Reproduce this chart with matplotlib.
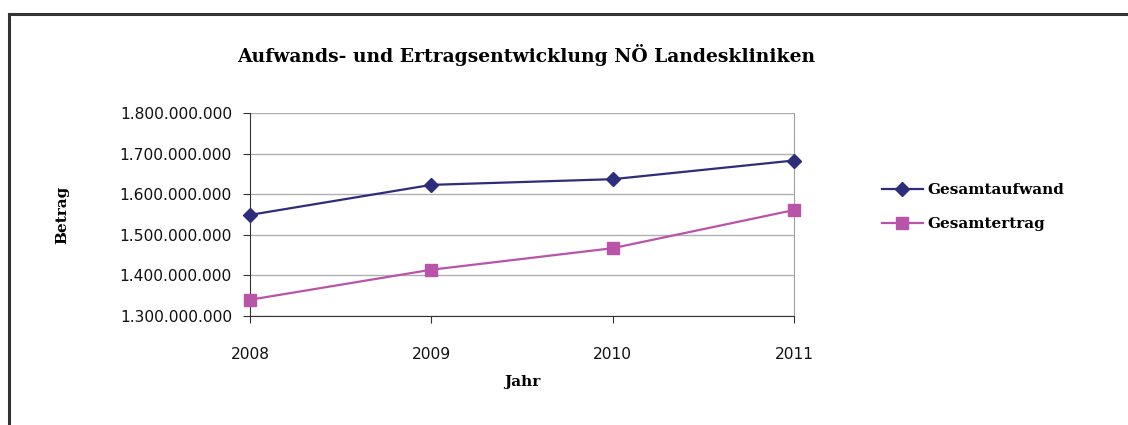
import matplotlib.pyplot as plt
from matplotlib.ticker import FuncFormatter
from matplotlib.lines import Line2D

years = ["2008", "2009", "2010", "2011"]
aufwand = [1549000000, 1623000000, 1637000000, 1683000000]
ertrag = [1340000000, 1414000000, 1467000000, 1561000000]

navy = "#2d2d7c"
pink = "#b954a8"

fig = plt.figure(figsize=(11.28, 4.25), dpi=100)
ax = fig.add_axes([250 / 1128, 1 - 316 / 425, 544 / 1128, 203 / 425])

x = range(len(years))
ax.plot(x, aufwand, color=navy, lw=1.6, marker="D", ms=7, label="Gesamtaufwand", clip_on=False, zorder=3)
ax.plot(x, ertrag, color=pink, lw=1.6, marker="s", ms=8, label="Gesamtertrag", clip_on=False, zorder=3)

ax.set_xlim(0, 3)
ax.set_ylim(1300000000, 1800000000)
ax.set_yticks(range(1300000000, 1800000001, 100000000))
ax.yaxis.set_major_formatter(FuncFormatter(lambda v, p: f"{int(v):,}".replace(",", ".")))
ax.set_xticks(list(x))
ax.set_xticklabels(years)
ax.grid(axis="y", color="#b0b0b0", lw=1)
ax.set_axisbelow(True)

ax.spines["top"].set_visible(False)
ax.spines["right"].set_color("#a0a0a0")
ax.spines["left"].set_color("#333333")
ax.spines["bottom"].set_color("#333333")
ax.tick_params(axis="both", direction="out", length=5, color="#333333",
               labelsize=11.2, labelcolor="#111111")
ax.tick_params(axis="y", pad=8)
ax.tick_params(axis="x", pad=17.5)

bold = dict(family="DejaVu Serif", fontweight="bold")
ax.set_xlabel("Jahr", fontsize=11, labelpad=9, **bold)
ax.set_ylabel("Betrag", fontsize=11, labelpad=36, **bold)
fig.text(526 / 1128, 1 - 55 / 425, "Aufwands- und Ertragsentwicklung NÖ Landeskliniken",
         ha="center", va="center", fontsize=13.5, **bold)

leg = fig.legend(loc="center left", bbox_to_anchor=(868 / 1128, 1 - 207 / 425),
                 frameon=False, prop={"family": "DejaVu Serif", "weight": "bold", "size": 11},
                 handlelength=2.7, handletextpad=0.3, labelspacing=1.3)

# outer chart frame (only top and left edges visible)
fig.add_artist(Line2D([9 / 1128, 1], [1 - 14 / 425] * 2, color="#333333", lw=2.2))
fig.add_artist(Line2D([9 / 1128] * 2, [0, 1 - 14 / 425], color="#333333", lw=2.2))

fig.savefig("out.png", dpi=100)
